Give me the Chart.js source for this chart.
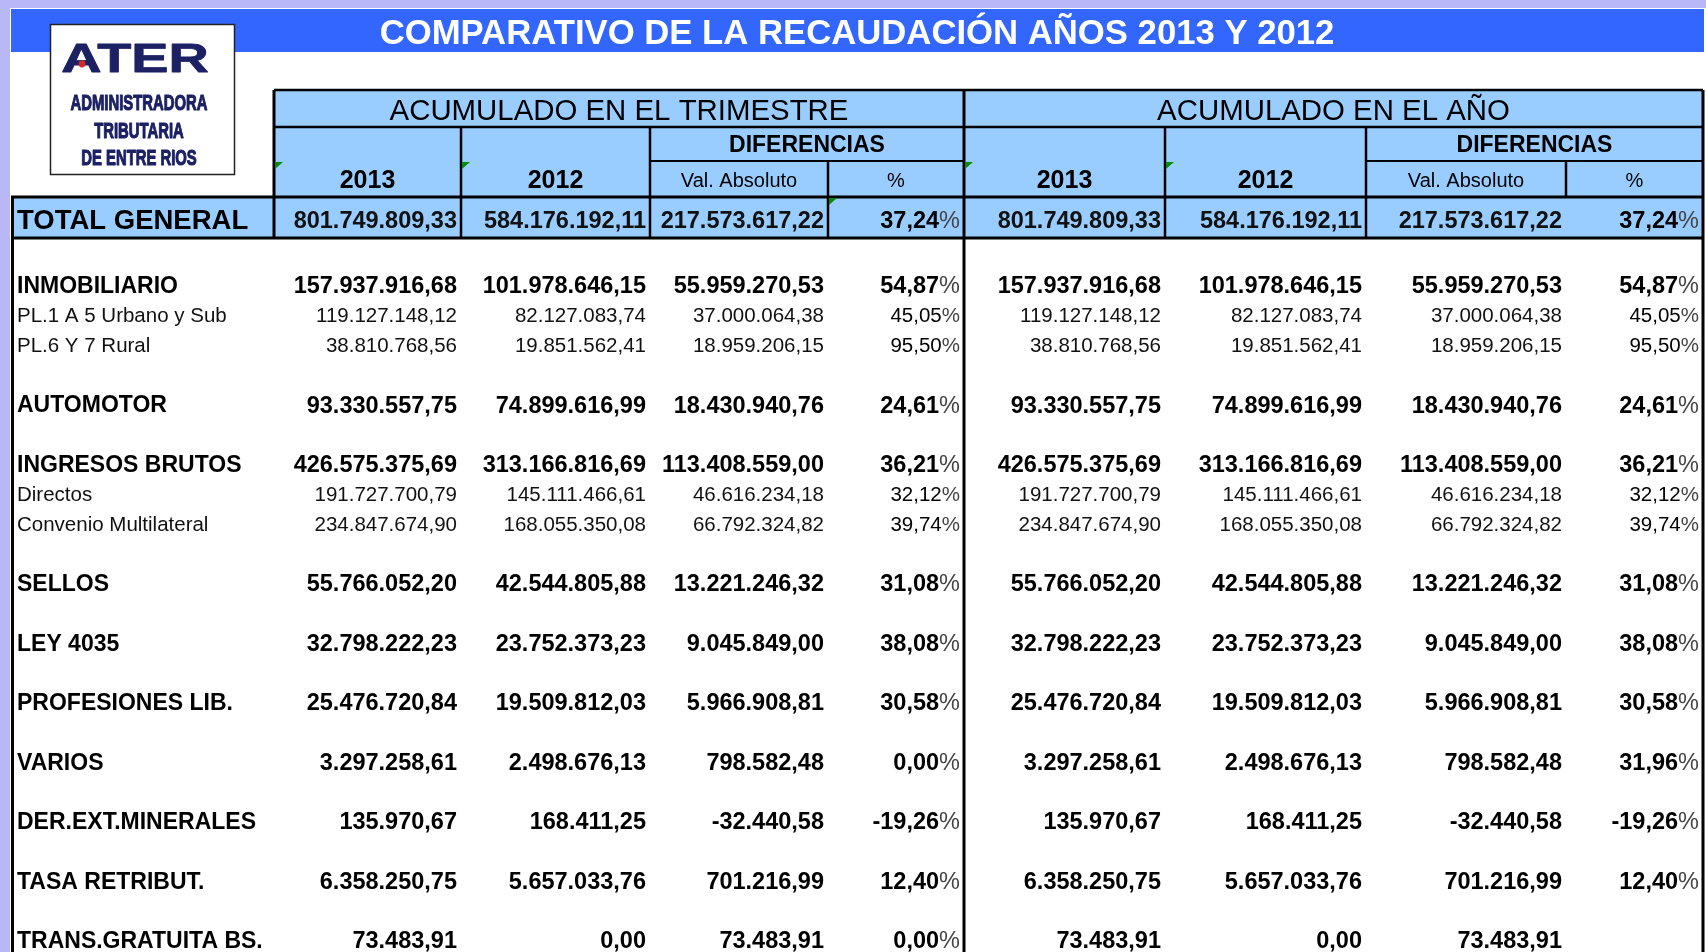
<!DOCTYPE html>
<html>
<head>
<meta charset="utf-8">
<script src="https://cdn.jsdelivr.net/npm/chart.js@4.4.1/dist/chart.umd.min.js"></script>
<style>
  html, body { margin: 0; padding: 0; background: #fff; overflow: hidden; }
  canvas { display: block; }
</style>
</head>
<body>
<canvas id="recaudacion" width="1706" height="952"></canvas>
<script>
// textos
const titulo = 'COMPARATIVO DE LA RECAUDACIÓN AÑOS 2013 Y 2012';
const grupos = ['ACUMULADO EN EL TRIMESTRE', 'ACUMULADO EN EL AÑO'];
const anios = ['2013', '2012'];
const subtitulos = ['DIFERENCIAS', 'Val. Absoluto', '%'];
const logoLineas = ['ADMINISTRADORA', 'TRIBUTARIA', 'DE ENTRE RIOS'];

// filas
const rubros = ['INMOBILIARIO', 'PL.1 A 5 Urbano y Sub', 'PL.6 Y 7 Rural', 'AUTOMOTOR', 'INGRESOS BRUTOS',
  'Directos', 'Convenio Multilateral', 'SELLOS', 'LEY 4035', 'PROFESIONES LIB.', 'VARIOS',
  'DER.EXT.MINERALES', 'TASA RETRIBUT.', 'TRANS.GRATUITA BS.'];
const esSubrubro = [false, true, true, false, false, true, true, false, false, false, false, false, false, false];

// total general (2013, 2012, diferencia, %)
const totalGeneral = [801749809.33, 584176192.11, 217573617.22, 37.24];

// acumulado en el trimestre
const trim2013 = [157937916.68, 119127148.12, 38810768.56, 93330557.75, 426575375.69, 191727700.79, 234847674.90,
  55766052.20, 32798222.23, 25476720.84, 3297258.61, 135970.67, 6358250.75, 73483.91];
const trim2012 = [101978646.15, 82127083.74, 19851562.41, 74899616.99, 313166816.69, 145111466.61, 168055350.08,
  42544805.88, 23752373.23, 19509812.03, 2498676.13, 168411.25, 5657033.76, 0.00];
const trimDif = [55959270.53, 37000064.38, 18959206.15, 18430940.76, 113408559.00, 46616234.18, 66792324.82,
  13221246.32, 9045849.00, 5966908.81, 798582.48, -32440.58, 701216.99, 73483.91];
const trimPct = [54.87, 45.05, 95.50, 24.61, 36.21, 32.12, 39.74, 31.08, 38.08, 30.58, 0.00, -19.26, 12.40, 0.00];

// acumulado en el año
const anio2013 = [157937916.68, 119127148.12, 38810768.56, 93330557.75, 426575375.69, 191727700.79, 234847674.90,
  55766052.20, 32798222.23, 25476720.84, 3297258.61, 135970.67, 6358250.75, 73483.91];
const anio2012 = [101978646.15, 82127083.74, 19851562.41, 74899616.99, 313166816.69, 145111466.61, 168055350.08,
  42544805.88, 23752373.23, 19509812.03, 2498676.13, 168411.25, 5657033.76, 0.00];
const anioDif = [55959270.53, 37000064.38, 18959206.15, 18430940.76, 113408559.00, 46616234.18, 66792324.82,
  13221246.32, 9045849.00, 5966908.81, 798582.48, -32440.58, 701216.99, 73483.91];
const anioPct = [54.87, 45.05, 95.50, 24.61, 36.21, 32.12, 39.74, 31.08, 38.08, 30.58, 31.96, -19.26, 12.40, null];

const columnas = [trim2013, trim2012, trimDif, trimPct, anio2013, anio2012, anioDif, anioPct];

// layout
const FAM = "'Liberation Sans', Arial, sans-serif";
const anchoCol = [187, 189, 178, 136, 201, 201, 200, 137];
const anchoRubro = 263;
const AZUL_CLARO = '#99ccff';
const AZUL = '#3366ff';
const LAVANDA = '#b8b8f6';
const MARINO = '#1b2163';

const bordes = [0];
anchoCol.forEach(w => bordes.push(bordes[bordes.length - 1] + w));

// posicion vertical de cada fila: rubros separados por una linea en blanco
const posFila = [];
let p = -2;
esSubrubro.forEach(sub => { p += sub ? 1 : 2; posFila.push(p); });

const fmt = (n) => {
  const c = Math.round(Math.abs(n) * 100);
  const ent = Math.floor(c / 100).toString().replace(/\B(?=(\d{3})+(?!\d))/g, '.');
  return (n < 0 ? '-' : '') + ent + ',' + String(c % 100).padStart(2, '0');
};

function texto(ctx, str, x, cy, size, weight, align, color, sx, grosor) {
  ctx.save();
  ctx.font = `${weight} ${size}px ${FAM}`;
  ctx.fillStyle = color;
  ctx.textAlign = align;
  ctx.textBaseline = 'alphabetic';
  ctx.translate(x, cy + size * 0.358);
  ctx.scale(sx || 1, 1);
  ctx.fillText(str, 0, 0);
  if (grosor) {
    ctx.strokeStyle = color;
    ctx.lineWidth = grosor;
    ctx.lineJoin = 'round';
    ctx.strokeText(str, 0, 0);
  }
  ctx.restore();
}

function porcentaje(ctx, v, x, cy, size, weight) {
  ctx.font = `normal ${size}px ${FAM}`;
  const w = ctx.measureText('%').width;
  texto(ctx, '%', x, cy, size, 'normal', 'right', '#444');
  texto(ctx, fmt(v), x - w, cy, size, weight, 'right', '#000');
}

function vline(ctx, x, y1, y2, w) { ctx.fillRect(x - w / 2, y1, w, y2 - y1); }
function hline(ctx, x1, x2, y, w) { ctx.fillRect(x1, y - w / 2, x2 - x1, w); }

function triangulo(ctx, x, y) {
  ctx.fillStyle = '#0a8a0a';
  ctx.beginPath();
  ctx.moveTo(x + 1, y + 1);
  ctx.lineTo(x + 9, y + 1);
  ctx.lineTo(x + 1, y + 8);
  ctx.closePath();
  ctx.fill();
}

const tablaPlugin = {
  id: 'tabla',
  beforeDraw(chart) {
    const ctx = chart.ctx;
    const xs = chart.scales.x;
    const X = bordes.map(b => xs.getPixelForValue(b));
    const izq = X[0] - anchoRubro;
    const der = X[8];
    const yCab = 90, yFila2 = 127, yFila3 = 161, yTot = 197, yCuerpo = 238;

    ctx.save();
    ctx.fillStyle = '#fff';
    ctx.fillRect(0, 0, chart.width, chart.height);
    ctx.fillStyle = LAVANDA;
    ctx.fillRect(0, 0, chart.width, 8);
    ctx.fillRect(0, 0, izq - 1, chart.height);

    // barra de titulo
    ctx.fillStyle = AZUL;
    ctx.fillRect(izq, 9, der + 1 - izq, 43);
    texto(ctx, titulo, (izq + der) / 2, 32, 34.7, 'bold', 'center', '#fff');

    // logo
    ctx.fillStyle = '#fff';
    ctx.fillRect(50, 24, 184, 150);
    ctx.strokeStyle = '#222';
    ctx.lineWidth = 1.5;
    ctx.strokeRect(50.5, 24.5, 184, 150);
    texto(ctx, 'ATER', 135, 57.5, 41, 'bold', 'center', MARINO, 1.36, 0.8);
    ctx.fillStyle = '#d42a2a';
    ctx.beginPath();
    ctx.arc(82, 64, 3.4, 0, Math.PI * 2);
    ctx.fill();
    [102, 130, 157].forEach((cy, i) => texto(ctx, logoLineas[i], 139, cy, 22.5, 'bold', 'center', MARINO, 0.66, 1.1));

    // celdas celestes
    ctx.fillStyle = AZUL_CLARO;
    ctx.fillRect(X[0], yCab, der - X[0], yTot - yCab);
    ctx.fillRect(izq, yTot, der - izq, yCuerpo - yTot);

    // lineas
    ctx.fillStyle = '#000';
    hline(ctx, X[0], der, yCab, 2.5);
    hline(ctx, X[0], der, yFila2, 2.5);
    hline(ctx, X[2], X[4], yFila3, 2);
    hline(ctx, X[6], X[8], yFila3, 2);
    hline(ctx, izq, der, yTot, 3);
    hline(ctx, izq, der, yCuerpo, 3);
    vline(ctx, X[0], yCab, yCuerpo, 3);
    vline(ctx, X[4], yCab, chart.height, 3);
    vline(ctx, der, yCab, chart.height, 3);
    vline(ctx, izq + 1.5, yTot, chart.height, 3);
    [1, 2, 5, 6].forEach(k => vline(ctx, X[k], yFila2, yCuerpo, 2.5));
    vline(ctx, X[3], yFila3, yCuerpo, 2.5);
    vline(ctx, X[7], yFila3, yTot, 2.5);

    // textos de cabecera
    [0, 1].forEach(g => {
      const a = X[g * 4], b = X[g * 4 + 4];
      texto(ctx, grupos[g], (a + b) / 2, 109, 29.4, 'normal', 'center', '#000');
      anios.forEach((an, k) => {
        texto(ctx, an, (X[g * 4 + k] + X[g * 4 + k + 1]) / 2, 179, 25, 'bold', 'center', '#000');
        triangulo(ctx, X[g * 4 + k], yFila3);
      });
      texto(ctx, subtitulos[0], (X[g * 4 + 2] + b) / 2, 144, 23, 'bold', 'center', '#000');
      texto(ctx, subtitulos[1], (X[g * 4 + 2] + X[g * 4 + 3]) / 2, 180, 20, 'normal', 'center', '#000');
      texto(ctx, subtitulos[2], (X[g * 4 + 3] + b) / 2, 180, 20, 'normal', 'center', '#000');
    });
    triangulo(ctx, X[3], yTot);

    // total general
    texto(ctx, 'TOTAL GENERAL', izq + 6, 219, 27.5, 'bold', 'left', '#000');
    [0, 1].forEach(g => {
      totalGeneral.forEach((v, k) => {
        const x = X[g * 4 + k + 1] - 4;
        if (k === 3) porcentaje(ctx, v, x, 220, 23.5, 'bold');
        else texto(ctx, fmt(v), x, 220, 23.5, 'bold', 'right', '#111');
      });
    });
    ctx.restore();
  },
  afterDatasetsDraw(chart) {
    const ctx = chart.ctx;
    const ys = chart.scales.y;
    const izq = chart.chartArea.left - anchoRubro;
    ctx.save();
    rubros.forEach((r, i) => {
      const cy = ys.getPixelForValue(posFila[i]);
      if (esSubrubro[i]) texto(ctx, r, izq + 6, cy, 20.5, 'normal', 'left', '#111');
      else texto(ctx, r, izq + 6, cy, 23, 'bold', 'left', '#000');
    });
    chart.data.datasets.forEach((ds, j) => {
      const meta = chart.getDatasetMeta(j);
      meta.data.forEach((pt, i) => {
        const v = ds.valores[i];
        if (v === null) return;
        const sub = esSubrubro[i];
        const size = sub ? 20.5 : 23.5;
        const weight = sub ? 'normal' : 'bold';
        const x = pt.x - 4;
        if (ds.esPct) porcentaje(ctx, v, x, pt.y, size, weight);
        else texto(ctx, fmt(v), x, pt.y, size, weight, 'right', sub ? '#111' : '#000');
      });
    });
    ctx.restore();
  }
};

const datasets = columnas.map((vals, j) => ({
  label: 'col' + j,
  valores: vals,
  esPct: j % 4 === 3,
  data: vals.map((v, i) => ({ x: bordes[j + 1], y: posFila[i] })),
  pointRadius: 0,
  pointHoverRadius: 0,
}));

new Chart(document.getElementById('recaudacion'), {
  type: 'scatter',
  data: { datasets: datasets },
  options: {
    responsive: false,
    animation: false,
    events: [],
    layout: { padding: { left: 11 + anchoRubro, right: 3, top: 285, bottom: 12 } },
    scales: {
      x: { type: 'linear', min: 0, max: bordes[bordes.length - 1], display: false },
      y: { type: 'linear', min: 0, max: posFila[posFila.length - 1], reverse: true, display: false },
    },
    plugins: {
      legend: { display: false },
      tooltip: { enabled: false },
      title: { display: false },
    },
  },
  plugins: [tablaPlugin],
});
</script>
</body>
</html>
